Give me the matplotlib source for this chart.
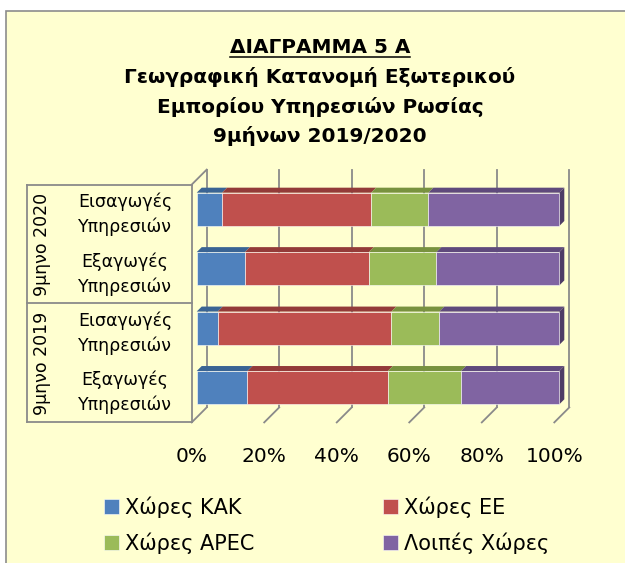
import matplotlib
matplotlib.use('Agg')
import matplotlib.pyplot as plt
from matplotlib.patches import Polygon, Rectangle
from matplotlib.lines import Line2D
import numpy as np

# data (bottom bar first)
categories = ['Εξαγωγές\nΥπηρεσιών', 'Εισαγωγές\nΥπηρεσιών',
              'Εξαγωγές\nΥπηρεσιών', 'Εισαγωγές\nΥπηρεσιών']
groups = ['9μηνο 2019', '9μηνο 2020']
series = ['Χώρες ΚΑΚ', 'Χώρες ΕΕ', 'Χώρες APEC', 'Λοιπές Χώρες']
kak = [14.0, 5.8, 13.3, 7.0]
ee = [38.7, 47.9, 34.2, 41.1]
apec = [20.2, 13.2, 18.6, 15.8]
other = [27.1, 33.1, 33.9, 36.1]
xticks = [0, 20, 40, 60, 80, 100]
xticklabels = ['0%', '20%', '40%', '60%', '80%', '100%']

front_cols = ['#4F81BD', '#C0504D', '#9BBB59', '#8064A2']
top_cols = ['#3A6494', '#933B39', '#78923F', '#5F4A7C']
side_col = '#4E3C66'
bg = '#FFFFD0'
grid_col = '#8A8A8A'

W, H = 625, 563
fig = plt.figure(figsize=(W / 100, H / 100), dpi=100)
fig.patch.set_facecolor('white')

# outer chart border (right / bottom cut off)
fig.add_artist(Rectangle((6 / W, -0.1), 1.5, 1 - 11 / H + 0.1, transform=fig.transFigure,
                         facecolor=bg, edgecolor='#8C8C8C', lw=1.2, zorder=0))

# axes = front floor plane: x 0..100 -> px 191.7..554.3, y -0.5..3.5 -> px 422.4..184.6
ax_l, ax_r, ax_b, ax_t = 191.7, 554.3, 422.4, 184.6
ax = fig.add_axes([ax_l / W, 1 - ax_b / H, (ax_r - ax_l) / W, (ax_b - ax_t) / H])
ax.set_xlim(0, 100)
ax.set_ylim(-0.5, 3.5)
ax.patch.set_alpha(0)
for s in ax.spines.values():
    s.set_visible(False)

KX = (ax_r - ax_l) / 100.0   # px per percent
KY = (ax_b - ax_t) / 4.0     # px per category
depth = 15                   # px, floor depth
bd0, bd1 = 5, 10             # bar front/back depth
bar_h = 33.3 / KY

def shift(x, y, d):
    return x + d / KX, y + d / KY

# back wall gridlines + floor slants
for p in xticks:
    xb, yb = shift(p, -0.5, depth)
    ax.plot([p, xb], [-0.5, yb], color=grid_col, lw=1.3, zorder=1, clip_on=False)
    ax.plot([xb, xb], [yb, 3.5 + depth / KY], color=grid_col, lw=1.3, zorder=1, clip_on=False)

# left wall front edge and top slant
ax.plot([0, 0], [-0.5, 3.5], color=grid_col, lw=1.3, zorder=1, clip_on=False)
xt, yt = shift(0, 3.5, depth)
ax.plot([0, xt], [3.5, yt], color=grid_col, lw=1.3, zorder=1, clip_on=False)

# category box
box_x = (27 - ax_l) / KX
for yy in [-0.5, 1.5, 3.5]:
    ax.plot([box_x, 0], [yy, yy], color=grid_col, lw=1.3, clip_on=False)
ax.plot([box_x, box_x], [-0.5, 3.5], color=grid_col, lw=1.3, clip_on=False)

ypos = np.arange(len(categories))
data = [kak, ee, apec, other]
left = np.zeros(len(categories))
handles = []
for k, vals in enumerate(data):
    vals = np.array(vals)
    xf, yf = shift(left, ypos, bd0)
    b = ax.barh(yf, vals, left=xf, height=bar_h, color=front_cols[k],
                edgecolor='#FFFFFF', linewidth=0.4, zorder=3, clip_on=False, label=series[k])
    handles.append(b)
    for i in range(len(categories)):
        l = xf[i]
        r = xf[i] + vals[i]
        t = yf[i] + bar_h / 2
        dx, dy = (bd1 - bd0) / KX, (bd1 - bd0) / KY
        ax.add_patch(Polygon([(l, t), (r, t), (r + dx, t + dy), (l + dx, t + dy)],
                             closed=True, facecolor=top_cols[k], edgecolor='none',
                             zorder=2, clip_on=False))
        if k == len(data) - 1:
            bt = yf[i] - bar_h / 2
            ax.add_patch(Polygon([(r, bt), (r, t), (r + dx, t + dy), (r + dx, bt + dy)],
                                 closed=True, facecolor=side_col, edgecolor='none',
                                 zorder=2, clip_on=False))
    left = left + vals

ax.set_yticks([])
ax.set_xticks(xticks)
ax.set_xticklabels(xticklabels, fontsize=14.5)
ax.tick_params(axis='x', length=0, pad=18)

# category and group labels
for i, c in enumerate(categories):
    ax.text((125 - ax_l) / KX, i, c, ha='center', va='center', fontsize=12.5,
            linespacing=1.45, clip_on=False)
for j, g in enumerate(groups):
    ax.text((41.7 - ax_l) / KX, 2 * j + 0.5, g, ha='center', va='center', fontsize=12.5,
            rotation=90, clip_on=False)

# title
title_lines = ['ΔΙΑΓΡΑΜΜΑ 5 Α', 'Γεωγραφική Κατανομή Εξωτερικού',
               'Εμπορίου Υπηρεσιών Ρωσίας', '9μήνων 2019/2020']
baselines = [53.3, 83.3, 113.3, 142.0]
title_texts = []
for line, yb in zip(title_lines, baselines):
    title_texts.append(fig.text(320 / W, 1 - yb / H, line, ha='center', va='baseline',
                                fontsize=14.4, fontweight='bold'))

fig.canvas.draw()
bb = title_texts[0].get_window_extent()
fig.add_artist(Line2D([bb.x0 / W, bb.x1 / W], [1 - 56.5 / H, 1 - 56.5 / H],
                      transform=fig.transFigure, color='black', lw=1.1))

# legend in two columns
order = [[0, 2], [1, 3]]
for col, xpx in zip(order, [104, 383]):
    fig.legend([handles[n] for n in col], [series[n] for n in col],
               loc='upper left', bbox_to_anchor=(xpx / W, 1 - 496 / H),
               frameon=False, fontsize=15, handlelength=0.72, handleheight=0.72,
               handletextpad=0.3, labelspacing=0.72, borderpad=0, borderaxespad=0)

fig.savefig('out.png', dpi=100, facecolor=fig.get_facecolor())
